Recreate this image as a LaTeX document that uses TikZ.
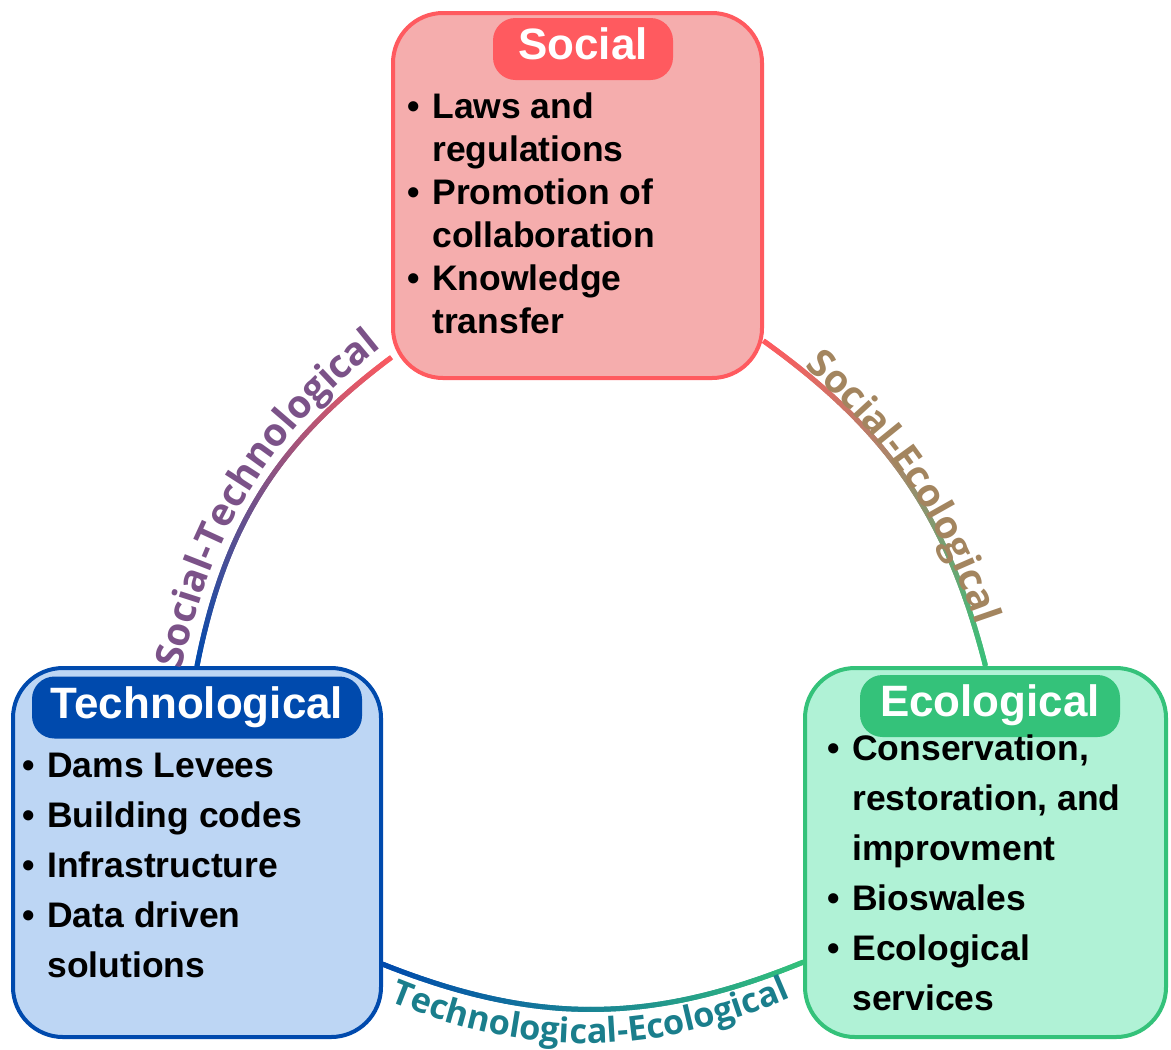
\documentclass[tikz,border=0pt]{standalone}
\usepackage{fontspec}
\setmainfont{Liberation Sans}
\newfontfamily\labfont{Open Sans}
\usetikzlibrary{decorations.markings,decorations.text,backgrounds}

\definecolor{socline}{HTML}{FF5A5F}
\definecolor{socfill}{HTML}{F5ADAD}
\definecolor{techline}{HTML}{004AAD}
\definecolor{techfill}{HTML}{BDD6F4}
\definecolor{ecoline}{HTML}{34C27A}
\definecolor{ecofill}{HTML}{B0F2D6}
\definecolor{stlab}{HTML}{7B5288}
\definecolor{selab}{HTML}{A3855F}
\definecolor{telab}{HTML}{1A7E8C}

\newcommand\bul{\makebox[0.5cm][l]{\textbullet}}
\newcommand\ind{\hspace*{0.5cm}}

\begin{document}
\begin{tikzpicture}[
    box/.style={draw, line width=0.08cm, rounded corners=1cm},
    pill/.style={rounded corners=0.45cm, text=white, inner sep=0pt,
      font=\bfseries\fontsize{25}{30}\selectfont,
      minimum height=1.24cm, text height=0.42cm, text depth=0cm},
    items/.style={align=left, inner sep=0pt, anchor=north west,
      font=\bfseries\fontsize{20.2}{28.45}\selectfont},
    gradline/.style 2 args={decorate, decoration={markings,
      mark=between positions 0 and 1 step 0.5pt with {
        \pgfmathsetmacro\frc{\pgfkeysvalueof{/pgf/decoration/mark info/distance from start}/\pgfdecoratedpathlength}
        \pgfmathtruncatemacro\pct{\frc*100}
        \draw[#2!\pct!#1, line width=0.1cm] (-0.5pt,0) -- (0.5pt,0);
      }}},
    arclabel/.style n args={3}{decorate, decoration={text along path,
      text align=center, text color=#1,
      text={|\labfont\bfseries\fontsize{#2}{#2}\selectfont|#3}}}
  ]
  \useasboundingbox (0,0) rectangle (23.42,-20.98);

  \node[box, draw=socline, fill=socfill, minimum width=7.38cm, minimum height=7.3cm] (soc) at (11.55,-3.91) {};
  \node[box, draw=techline, fill=techfill, minimum width=7.36cm, minimum height=7.38cm] (tech) at (3.94,-17.05) {};
  \node[box, draw=ecoline, fill=ecofill, minimum width=7.22cm, minimum height=7.38cm] (eco) at (19.71,-17.05) {};

  \node[pill, fill=socline, minimum width=3.6cm] (soctitle) at (11.66,-0.98) {Social};
  \node[pill, fill=techline, minimum width=6.6cm] (techtitle) at (3.94,-14.15) {Technological};
  \node[pill, fill=ecoline, minimum width=5.2cm] (ecotitle) at (19.8,-14.12) {Ecological};

  \node[items, font=\bfseries\fontsize{20.2}{24.5}\selectfont] (socitems) at (8.14,-1.84)
    {\bul Laws and\\ \ind regulations\\ \bul Promotion of\\ \ind collaboration\\ \bul Knowledge\\ \ind transfer};
  \node[items] (techitems) at (0.44,-15.05)
    {\bul Dams Levees\\ \bul Building codes\\ \bul Infrastructure\\ \bul Data driven\\ \ind solutions};
  \node[items] (ecoitems) at (16.54,-14.68)
    {\bul Conservation,\\ \ind restoration, and\\ \ind improvment\\ \bul Bioswales\\ \bul Ecological\\ \ind services};

  % links between the three boxes, behind them
  \begin{scope}[on background layer]
    \path[gradline={techline}{socline}] (tech.north) to[bend left=21] (soc.221);
    \path[gradline={socline}{ecoline}] (soc.-38) to[bend left=20] (eco.north);
    \path[gradline={techline}{ecoline}] (tech.-31) to[bend right=22] (eco.211);
  \end{scope}

  \path[arclabel={stlab}{22}{Social-Technological}] (3.5,-14.1) to[bend left=22] (8.2,-6.5);
  \path[arclabel={selab}{22}{Social-Ecological}] (14.8,-6.3) to[bend left=20] (19.98,-14.1);
  \path[arclabel={telab}{19.5}{Technological-Ecological}] (7.0,-19.68) to[bend right=26] (16.6,-19.58);
\end{tikzpicture}
\end{document}
